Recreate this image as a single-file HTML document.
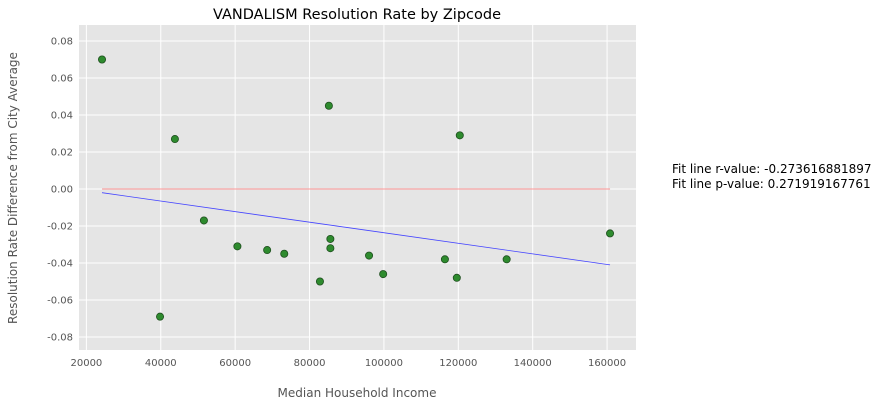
<!DOCTYPE html>
<html><head><meta charset="utf-8"><style>
body{margin:0;background:#fff;font-family:"Liberation Sans","DejaVu Sans",sans-serif}
</style></head><body>
<svg id="chart" width="884" height="407" xmlns="http://www.w3.org/2000/svg" font-family="DejaVu Sans, Liberation Sans, sans-serif">
<rect x="79" y="25" width="557" height="325" fill="#e5e5e5"/>
<g id="grid"></g><g id="ticks"></g><g id="marks"></g>
<text x="357" y="19" text-anchor="middle" font-size="14.5" fill="#000">VANDALISM Resolution Rate by Zipcode</text>
<text x="357" y="397" text-anchor="middle" font-size="12" fill="#555">Median Household Income</text>
<text transform="translate(17,188) rotate(-90)" text-anchor="middle" font-size="12" fill="#555">Resolution Rate Difference from City Average</text>
<text x="672" y="173" font-size="12" fill="#000">Fit line r-value: -0.273616881897</text>
<text x="672" y="188" font-size="12" fill="#000">Fit line p-value: 0.271919167761</text>
</svg>
<script>
const xs=[24200,39800,43800,51600,60600,68600,73200,82800,85200,85600,85600,96000,99800,116400,119600,120400,133000,160800];
const ys=[0.070,-0.069,0.027,-0.017,-0.031,-0.033,-0.035,-0.050,0.045,-0.027,-0.032,-0.036,-0.046,-0.038,-0.048,0.029,-0.038,-0.024];
const xTicks=[20000,40000,60000,80000,100000,120000,140000,160000];
const yTicks=[0.08,0.06,0.04,0.02,0.00,-0.02,-0.04,-0.06,-0.08];
const fitStart=[24200,-0.002];
const fitEnd=[160800,-0.041];
const X=v=>86.4+(v-20000)*0.003719;
const Y=v=>189-v*1850;
const NS="http://www.w3.org/2000/svg";
function mk(p,t,a){const e=document.createElementNS(NS,t);for(const k in a)e.setAttribute(k,a[k]);document.getElementById(p).appendChild(e);return e;}
xTicks.forEach(t=>{
 const g=mk('grid','line',{x1:X(t),x2:X(t),y1:25,y2:350,stroke:'#fff','stroke-width':1});
 
 
 const l=mk('ticks','text',{x:X(t),y:366,'text-anchor':'middle','font-size':10,fill:'#555'});
 l.textContent=t;
 
 
});
yTicks.forEach(t=>{
 const g=mk('grid','line',{x1:79,x2:636,y1:Y(t),y2:Y(t),stroke:'#fff','stroke-width':1});
 
 
 const l=mk('ticks','text',{x:73,y:Y(t)+3.5,'text-anchor':'end','font-size':10,fill:'#555'});
 l.textContent=t.toFixed(2);
 
 
});
const r=mk('marks','line',{x1:X(fitStart[0]),x2:X(fitEnd[0]),y1:Y(0),y2:Y(0),stroke:'#ff3333','stroke-width':0.6});


const b=mk('marks','line',{x1:X(fitStart[0]),x2:X(fitEnd[0]),y1:Y(fitStart[1]),y2:Y(fitEnd[1]),stroke:'#4444ff','stroke-width':0.8});


xs.forEach((x,i)=>{
 const c=mk('marks','circle',{cx:X(x),cy:Y(ys[i]),r:3.6,fill:'#2e8b2e',stroke:'#1f4f1f','stroke-width':0.8});
 
 
});
</script>
</body></html>
